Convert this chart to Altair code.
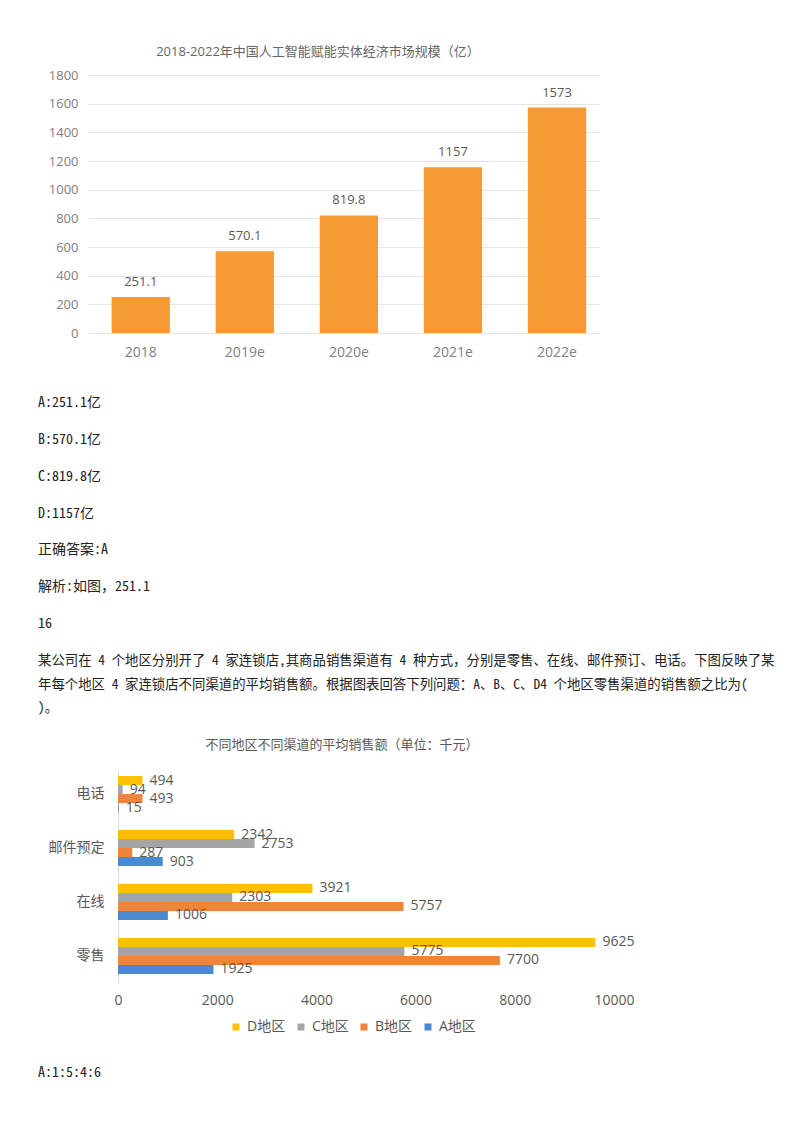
import altair as alt
import pandas as pd

# ---------------- chart 1: market size ----------------
years = ["2018", "2019e", "2020e", "2021e", "2022e"]
market = [251.1, 570.1, 819.8, 1157, 1573]
market_labels = ["251.1", "570.1", "819.8", "1157", "1573"]
y_ticks1 = [0, 200, 400, 600, 800, 1000, 1200, 1400, 1600, 1800]
title1 = "2018-2022年中国人工智能赋能实体经济市场规模（亿）"

# ---------------- chart 2: sales by channel / region ----------------
channels = ["电话", "邮件预定", "在线", "零售"]
regions = ["D地区", "C地区", "B地区", "A地区"]
sales_d = [494, 2342, 3921, 9625]
sales_c = [94, 2753, 2303, 5775]
sales_b = [493, 287, 5757, 7700]
sales_a = [15, 903, 1006, 1925]
x_ticks2 = [0, 2000, 4000, 6000, 8000, 10000]
title2 = "不同地区不同渠道的平均销售额（单位：千元）"
region_colors = ["#FFC000", "#A5A5A5", "#F08539", "#4A89D0"]

# ---------------- page text ----------------
text_top = [
    "A:251.1亿",
    "B:570.1亿",
    "C:819.8亿",
    "D:1157亿",
    "正确答案:A",
    "解析:如图，251.1",
    "16",
]
paragraph = [
    "某公司在 4 个地区分别开了 4 家连锁店,其商品销售渠道有 4 种方式，分别是零售、在线、邮件预订、电话。下图反映了某\n"
    "年每个地区 4 家连锁店不同渠道的平均销售额。根据图表回答下列问题：A、B、C、D4 个地区零售渠道的销售额之比为(\n"
    ")。"
]
text_bottom = ["A:1:5:4:6"]

SANS = "Open Sans, Noto Sans CJK SC"
DOC = "Noto Sans Mono CJK SC, Liberation Mono, Noto Sans CJK SC"

# chart 1
df1 = pd.DataFrame({"year": years, "market": market, "label": market_labels})
base1 = alt.Chart(df1).encode(
    x=alt.X("year:N", sort=years, title=None,
            scale=alt.Scale(paddingInner=0.44, paddingOuter=0.18, align=0.63),
            axis=alt.Axis(labelAngle=0, labelFontSize=14, labelColor="#808080",
                          labelPadding=12, ticks=False, domain=False)),
    y=alt.Y("market:Q", title=None, scale=alt.Scale(domain=[0, 1800], nice=False),
            axis=alt.Axis(values=y_ticks1, format="d", labelFontSize=13,
                          labelColor="#808080", labelPadding=10, ticks=False,
                          domain=False, gridColor="#e6e6e6",
                          minExtent=50, maxExtent=50)),
)
bars1 = base1.mark_bar(color="#F59B34")
labels1 = base1.mark_text(baseline="bottom", dy=-8, fontSize=13, color="#595959").encode(
    text="label:N")
chart1 = (bars1 + labels1).properties(
    width=512, height=258,
    title=alt.TitleParams(title1, fontSize=13, color="#666666", fontWeight="normal",
                          font=SANS, dx=-26, offset=10),
)

# chart 2 (plot origin shared with chart 1; bars start 30px further right)
rows = []
for k, ch in enumerate(channels):
    for reg, vals in zip(regions, [sales_d, sales_c, sales_b, sales_a]):
        rows.append({"channel": ch, "region": reg, "sales": vals[k]})
df2 = pd.DataFrame(rows)
base2 = alt.Chart(df2).encode(
    y=alt.Y("channel:N", sort=channels, title=None,
            scale=alt.Scale(paddingInner=0.333, paddingOuter=0.14, align=0.4),
            axis=alt.Axis(labelFontSize=14, labelColor="#595959", labelPadding=14,
                          ticks=False, domainColor="#d9d9d9", grid=False,
                          offset=-30)),
    yOffset=alt.YOffset("region:N", sort=regions),
    x=alt.X("sales:Q", title=None,
            scale=alt.Scale(domain=[0, 10000], nice=False, range=[30, 526]),
            axis=alt.Axis(values=x_ticks2, format="d", labelFontSize=14,
                          labelColor="#595959", labelPadding=10, ticks=False,
                          domain=False, grid=False, labelFlush=False)),
)
bars2 = base2.mark_bar().encode(
    color=alt.Color("region:N", sort=regions,
                    scale=alt.Scale(domain=regions, range=region_colors),
                    legend=alt.Legend(orient="none", legendX=141, legendY=250,
                                      direction="horizontal", title=None,
                                      symbolType="square", symbolSize=49,
                                      symbolStrokeWidth=0, labelFontSize=14,
                                      labelColor="#595959", labelOffset=4,
                                      columnPadding=8, padding=0)),
)
labels2 = base2.mark_text(align="left", dx=7, fontSize=14, color="#595959").encode(
    text="sales:Q")
chart2 = (bars2 + labels2).properties(
    width=526, height=213,
    title=alt.TitleParams(title2, fontSize=13, color="#595959", fontWeight="normal",
                          font=SANS, dx=-9, offset=18),
)


def text_rows(lines, field, first, step, height, size):
    df = pd.DataFrame({field: list(range(len(lines))), "t": lines})
    last = first + step * (len(lines) - 1)
    return alt.Chart(df).mark_text(
        align="left", baseline="top", dy=-6, fontSize=size, font=DOC,
        color="#222222", lineBreak="\n", lineHeight=23.5,
    ).encode(
        x=alt.value(-50),
        y=alt.Y(f"{field}:O", axis=None,
                scale=alt.Scale(type="point", padding=0, range=[first, last])),
        text="t:N",
    ).properties(width=512, height=height)


text1 = text_rows(text_top, "row_a", 43, 36.86, 283, 14)
text2 = text_rows(paragraph, "row_p", 18, 0, 96.5, 13.4)
text3 = text_rows(text_bottom, "row_b", 38, 0, 60, 14)

chart = alt.vconcat(chart1, text1, text2, chart2, text3, spacing=0).resolve_scale(
    x="independent", y="independent", color="independent"
).properties(
    padding={"left": 30, "top": 38, "right": 0, "bottom": 0}
).configure(font=SANS).configure_view(stroke=None)

chart.save("out.html", embed_options={"renderer": "svg", "actions": False})
